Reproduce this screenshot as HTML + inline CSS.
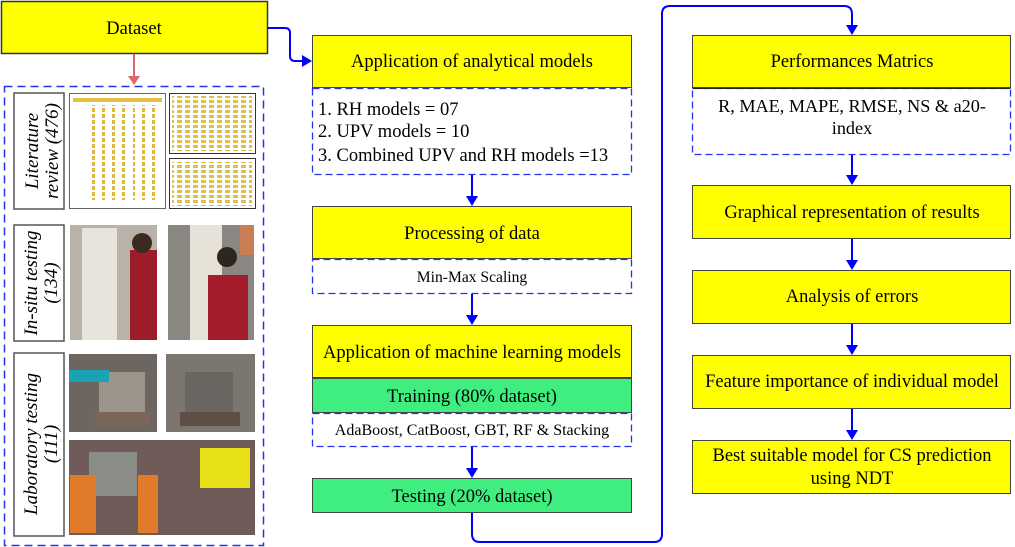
<!DOCTYPE html>
<html><head><meta charset="utf-8"><style>
html,body{margin:0;padding:0;background:#fff;}
svg{display:block;}
text{font-family:"Liberation Serif",serif;fill:#000;}
</style></head><body>
<svg width="1015" height="547" viewBox="0 0 1015 547" xmlns="http://www.w3.org/2000/svg">
<defs>
<pattern id="tbl" width="10" height="6" patternUnits="userSpaceOnUse">
<rect x="2" y="0" width="3" height="4" fill="#e0b93a"/>
</pattern>
<pattern id="tbl2" width="8" height="5" patternUnits="userSpaceOnUse">
<rect x="1" y="0" width="5" height="3" fill="#e4be45"/>
</pattern>
</defs>

<rect x="1.5" y="1.5" width="266" height="52" fill="#ffff00" stroke="#333" stroke-width="1.5"/>
<text x="134" y="34" font-size="18.5" text-anchor="middle">Dataset</text>
<line x1="134" y1="54" x2="134" y2="78" stroke="#e06666" stroke-width="2"/>
<polygon points="128,76 140,76 134,85" fill="#e06666"/>

<rect x="4.5" y="86.5" width="259" height="459" fill="none" stroke="#2233ee" stroke-width="1.5" stroke-dasharray="8,5"/>

<rect x="14" y="93" width="50" height="116" fill="#fff" stroke="#555" stroke-width="1.5"/>
<text transform="translate(38,151) rotate(-90)" font-size="19" font-style="italic" text-anchor="middle">Literature</text>
<text transform="translate(58,151) rotate(-90)" font-size="19" font-style="italic" text-anchor="middle">review (476)</text>
<rect x="14" y="225" width="50" height="116" fill="#fff" stroke="#555" stroke-width="1.5"/>
<text transform="translate(37,283) rotate(-90)" font-size="19" font-style="italic" text-anchor="middle">In-situ testing</text>
<text transform="translate(57,283) rotate(-90)" font-size="19" font-style="italic" text-anchor="middle">(134)</text>
<rect x="14" y="353" width="50" height="183" fill="#fff" stroke="#555" stroke-width="1.5"/>
<text transform="translate(37,444) rotate(-90)" font-size="19" font-style="italic" text-anchor="middle">Laboratory testing</text>
<text transform="translate(57,444) rotate(-90)" font-size="19" font-style="italic" text-anchor="middle">(111)</text>

<rect x="69.5" y="93.5" width="96" height="115" fill="#fff" stroke="#666"/>
<rect x="73" y="98" width="89" height="4" fill="#e4be45"/>
<rect x="92" y="105" width="40" height="95" fill="url(#tbl)"/>
<rect x="133" y="105" width="28" height="95" fill="url(#tbl)"/>
<rect x="169.5" y="93.5" width="86" height="60" fill="#fff" stroke="#333"/>
<rect x="172" y="96" width="80" height="55" fill="url(#tbl2)"/>
<rect x="169.5" y="158.5" width="86" height="50" fill="#fff" stroke="#333"/>
<rect x="172" y="162" width="80" height="44" fill="url(#tbl2)"/>

<rect x="70" y="225" width="87" height="115" fill="#b9b2a8"/>
<rect x="82" y="228" width="35" height="112" fill="#e8e3da"/>
<rect x="130" y="250" width="27" height="90" fill="#9c1c2a"/>
<circle cx="142" cy="243" r="10" fill="#3a2a22"/>
<rect x="168" y="225" width="86" height="115" fill="#8a8682"/>
<rect x="190" y="225" width="32" height="115" fill="#e7e2d8"/>
<rect x="208" y="275" width="40" height="65" fill="#a31d2c"/>
<circle cx="227" cy="257" r="10" fill="#2e2420"/>
<rect x="240" y="225" width="14" height="30" fill="#c97e55"/>

<rect x="69" y="354" width="88" height="78" fill="#6d6660"/>
<rect x="99" y="372" width="46" height="40" fill="#9c958c"/>
<rect x="95" y="412" width="55" height="14" fill="#7b6458"/>
<rect x="69" y="370" width="40" height="12" fill="#19a3b5"/>
<rect x="166" y="354" width="89" height="78" fill="#7c7670"/>
<rect x="185" y="372" width="48" height="40" fill="#6b6561"/>
<rect x="180" y="412" width="60" height="14" fill="#5e4f46"/>
<rect x="69" y="440" width="186" height="95" fill="#6f5c58"/>
<rect x="89" y="452" width="48" height="44" fill="#8a8c88"/>
<rect x="200" y="448" width="50" height="40" fill="#e8e11a"/>
<rect x="70" y="475" width="26" height="58" fill="#e07b2b"/>
<rect x="138" y="475" width="20" height="58" fill="#e07b2b"/>

<path d="M268,28 H285 Q290,28 290,33 V56 Q290,61 295,61 H303" fill="none" stroke="#0000ff" stroke-width="2"/>
<polygon points="302,55 312,61 302,67" fill="#0000ff"/>

<rect x="312.5" y="35.5" width="319" height="52" fill="#ffff00" stroke="#444"/>
<text x="472" y="67" font-size="18.5" text-anchor="middle">Application of analytical models</text>
<rect x="312.5" y="88.5" width="319" height="86" fill="#fff" stroke="#2233ee" stroke-width="1.3" stroke-dasharray="7,4"/>
<text x="318" y="115" font-size="18.5">1. RH models = 07</text>
<text x="318" y="137" font-size="18.5">2. UPV models = 10</text>
<text x="318" y="161" font-size="18.5">3. Combined UPV and RH models =13</text>
<line x1="472" y1="175" x2="472" y2="198" stroke="#0000ff" stroke-width="2"/>
<polygon points="466,196 478,196 472,206" fill="#0000ff"/>

<rect x="312.5" y="206.5" width="319" height="52" fill="#ffff00" stroke="#444"/>
<text x="472" y="239" font-size="18.5" text-anchor="middle">Processing of data</text>
<rect x="312.5" y="259.5" width="319" height="34" fill="#fff" stroke="#2233ee" stroke-width="1.3" stroke-dasharray="7,4"/>
<text x="472" y="282" font-size="15.6" text-anchor="middle">Min-Max Scaling</text>
<line x1="472" y1="294" x2="472" y2="317" stroke="#0000ff" stroke-width="2"/>
<polygon points="466,315 478,315 472,325" fill="#0000ff"/>

<rect x="312.5" y="325.5" width="319" height="52" fill="#ffff00" stroke="#444"/>
<text x="472" y="358" font-size="18.5" text-anchor="middle">Application of machine learning models</text>
<rect x="312.5" y="378.5" width="319" height="34" fill="#40ee80" stroke="#444"/>
<text x="472" y="402" font-size="18.5" text-anchor="middle">Training (80% dataset)</text>
<rect x="312.5" y="413.5" width="319" height="33" fill="#fff" stroke="#2233ee" stroke-width="1.3" stroke-dasharray="7,4"/>
<text x="472" y="435" font-size="16" text-anchor="middle">AdaBoost, CatBoost, GBT, RF &amp; Stacking</text>
<line x1="472" y1="447" x2="472" y2="470" stroke="#0000ff" stroke-width="2"/>
<polygon points="466,468 478,468 472,478" fill="#0000ff"/>
<rect x="312.5" y="478.5" width="319" height="34" fill="#40ee80" stroke="#444"/>
<text x="472" y="502" font-size="18.5" text-anchor="middle">Testing (20% dataset)</text>

<path d="M472,513 V534 Q472,542 480,542 H654 Q662,542 662,534 V14 Q662,6 670,6 H844 Q852,6 852,14 V27" fill="none" stroke="#0000ff" stroke-width="2"/>
<polygon points="846,25 858,25 852,35" fill="#0000ff"/>

<rect x="692.5" y="35.5" width="318" height="52" fill="#ffff00" stroke="#444"/>
<text x="852" y="67" font-size="18.5" text-anchor="middle">Performances Matrics</text>
<rect x="692.5" y="88.5" width="318" height="66" fill="#fff" stroke="#2233ee" stroke-width="1.3" stroke-dasharray="7,4"/>
<line x1="692.5" y1="88.5" x2="1010.5" y2="88.5" stroke="#222"/>
<text x="852" y="112" font-size="18.2" text-anchor="middle">R, MAE, MAPE, RMSE, NS &amp; a20-</text>
<text x="852" y="134" font-size="18.2" text-anchor="middle">index</text>
<line x1="852" y1="155" x2="852" y2="177" stroke="#0000ff" stroke-width="2"/>
<polygon points="846,175 858,175 852,185" fill="#0000ff"/>

<rect x="692.5" y="185.5" width="318" height="53" fill="#ffff00" stroke="#444"/>
<text x="852" y="218" font-size="18.5" text-anchor="middle">Graphical representation of results</text>
<line x1="852" y1="239" x2="852" y2="262" stroke="#0000ff" stroke-width="2"/>
<polygon points="846,260 858,260 852,270" fill="#0000ff"/>

<rect x="692.5" y="270.5" width="318" height="53" fill="#ffff00" stroke="#444"/>
<text x="852" y="302" font-size="18.5" text-anchor="middle">Analysis of errors</text>
<line x1="852" y1="324" x2="852" y2="347" stroke="#0000ff" stroke-width="2"/>
<polygon points="846,345 858,345 852,355" fill="#0000ff"/>

<rect x="692.5" y="355.5" width="318" height="53" fill="#ffff00" stroke="#444"/>
<text x="852" y="387" font-size="18.5" text-anchor="middle">Feature importance of individual model</text>
<line x1="852" y1="409" x2="852" y2="432" stroke="#0000ff" stroke-width="2"/>
<polygon points="846,430 858,430 852,440" fill="#0000ff"/>

<rect x="692.5" y="440.5" width="318" height="53" fill="#ffff00" stroke="#444"/>
<text x="852" y="461" font-size="18.5" text-anchor="middle">Best suitable model for CS prediction</text>
<text x="852" y="484" font-size="18.5" text-anchor="middle">using NDT</text>
</svg>
</body></html>
